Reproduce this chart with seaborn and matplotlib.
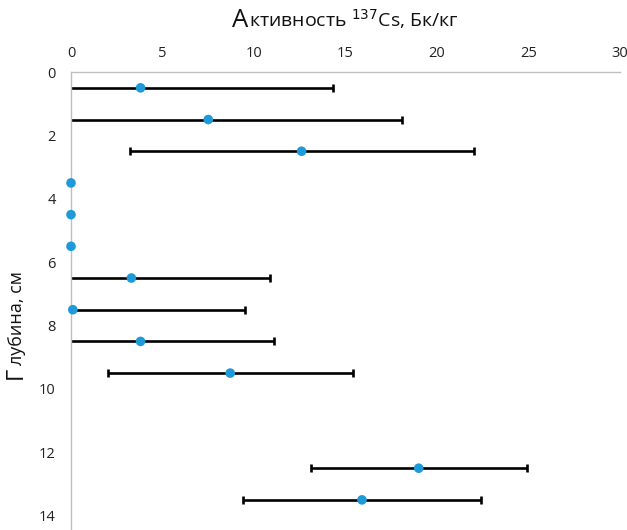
import matplotlib
matplotlib.use("Agg")
import matplotlib.pyplot as plt
import seaborn as sns
import pandas as pd

# Data (depth in cm, activity in Bq/kg, error half-width)
depth = [0.5, 1.5, 2.5, 3.5, 4.5, 5.5, 6.5, 7.5, 8.5, 9.5, 12.5, 13.5]
activity = [3.8, 7.5, 12.6, 0.0, 0.0, 0.0, 3.3, 0.1, 3.8, 8.7, 19.0, 15.9]
error = [10.5, 10.6, 9.4, 0.0, 0.0, 0.0, 7.6, 9.4, 7.3, 6.7, 5.9, 6.5]
x_ticks = [0, 5, 10, 15, 20, 25, 30]
y_ticks = [0, 2, 4, 6, 8, 10, 12, 14]

df = pd.DataFrame({"depth": depth, "activity": activity, "error": error})
err_df = df[df["error"] > 0]

sns.set_theme(style="white")
plt.rcParams['font.family'] = ['Open Sans', 'DejaVu Sans']

W, H = 627, 530
fig = plt.figure(figsize=(W / 100, H / 100), dpi=100)
ax = fig.add_axes([71 / W, 0, 549 / W, 1 - 72 / H])

ax.errorbar(x=err_df["activity"], y=err_df["depth"], xerr=err_df["error"],
            fmt='none', ecolor='black', elinewidth=1.9, capsize=3.2,
            capthick=1.9, zorder=2)
sns.scatterplot(data=df, x="activity", y="depth", color='#1f9ad8', s=48,
                edgecolor='none', ax=ax, zorder=3, clip_on=False)

ax.set_xlim(0, 30)
ax.set_ylim(14.45, 0)
ax.set_xticks(x_ticks)
ax.set_yticks(y_ticks)
ax.xaxis.tick_top()
ax.tick_params(axis='both', length=0, labelsize=10.5, colors='#222222')
ax.tick_params(axis='x', pad=8)
ax.tick_params(axis='y', pad=11)
ax.set_xlabel("")
ax.set_ylabel("")
for s in ['right', 'bottom']:
    ax.spines[s].set_visible(False)
for s in ['top', 'left']:
    ax.spines[s].set_color('#bfbfbf')
    ax.spines[s].set_linewidth(1.0)

# Title with larger first letter
fig.canvas.draw()
r = fig.canvas.get_renderer()
tx, ty = 232 / W, 1 - 27 / H
t1 = fig.text(tx, ty, "А", fontsize=18.5, va='baseline', ha='left', color='#111111')
bb = t1.get_window_extent(renderer=r)
fig.text(bb.x1 / W + 0.001, ty, "ктивность $^{137}$Cs, Бк/кг", fontsize=14,
         va='baseline', ha='left', color='#111111')

# Y label with larger first letter (rotated)
yx, yy = 22 / W, 1 - 379 / H
g1 = fig.text(yx, yy, "Г", fontsize=17, rotation=90, rotation_mode='anchor',
              va='baseline', ha='left', color='#111111')
gb = g1.get_window_extent(renderer=r)
fig.text(yx, gb.y1 / H + 0.003, "лубина, см", fontsize=13, rotation=90,
         rotation_mode='anchor', va='baseline', ha='left', color='#111111')

fig.savefig("out.png", dpi=100)
